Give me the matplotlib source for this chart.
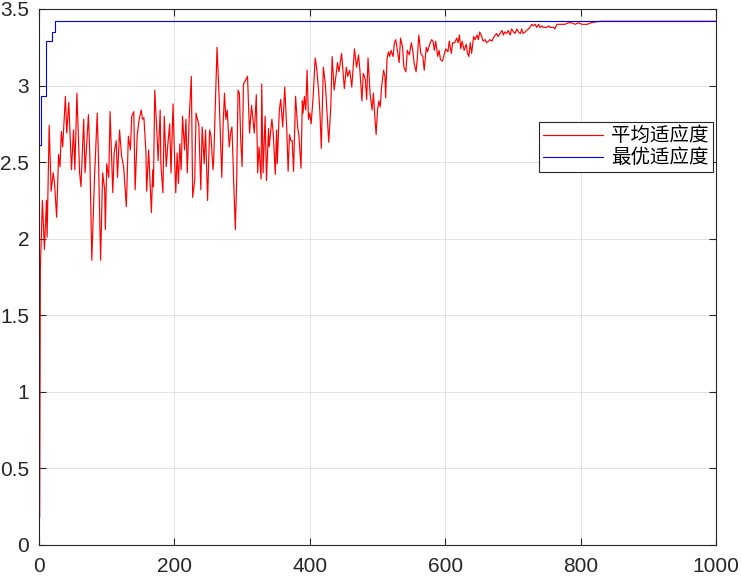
import numpy as np
import matplotlib.pyplot as plt
from matplotlib.ticker import FormatStrFormatter

# generations / fitness values
avg_gen = [1, 2, 5, 8, 11, 12, 15, 18, 21, 23, 26, 29, 31, 33, 35, 39, 41, 44, 48, 51,
           53, 56, 60, 62, 66, 68, 73, 75, 78, 82, 86, 88, 91, 94, 97, 98, 100, 103, 105, 109,
           111, 114, 116, 119, 122, 125, 129, 132, 135, 137, 140, 142, 145, 148,
           151, 153, 155, 158, 159, 162, 164, 166, 168, 169, 171, 174, 176, 179, 180, 183,
           185, 188, 190, 193, 195, 198, 200, 202, 204, 206, 208, 210, 212, 215, 217, 219,
           222, 225, 227, 230, 232, 234, 236, 239, 241, 244, 246, 248, 249, 252, 254, 257,
           258, 261, 263, 266, 270, 272, 274, 276, 278, 281, 283, 285, 287, 290, 292, 294,
           296, 298, 300, 302,
           308, 311, 314, 316, 318, 321, 323, 325, 328, 329, 331, 334, 336, 339, 340, 344,
           346, 349, 351, 352, 355, 357, 360, 363, 366, 368, 370, 372, 374, 376, 379, 382,
           384, 387, 389, 390, 392, 394, 396, 398, 400, 402, 405, 408, 410, 413, 415, 417,
           420, 423, 425, 428, 431, 433, 436, 439, 441, 443, 447, 451, 454, 456,
           459, 462, 466, 469, 472, 474, 477, 479, 482, 484, 486, 489, 492, 494, 496, 498,
           500, 502, 504, 506, 509, 511, 512, 514, 516, 518, 520, 523, 525, 527, 529, 532,
           534, 537, 539, 542, 544, 547, 550, 552, 554, 557, 559, 561, 564, 567, 569, 572,
           574, 577, 580, 582, 584, 586, 589, 591, 593, 596, 599, 601, 604, 606, 609, 611,
           614, 617, 619, 621, 623, 625, 628, 631, 633, 635, 637, 639, 642, 644, 647, 649,
           651, 654, 656, 659, 661, 664, 666, 669, 671, 674, 676, 678, 681, 684, 686, 688,
           691, 693, 696, 698, 701, 703, 706, 708, 711, 713, 715, 718, 720, 723, 725, 728,
           730, 733, 735, 738, 740, 743, 745, 748, 750, 753, 755, 758, 760, 762, 765, 768,
           772, 777, 782, 787, 792, 797, 802, 810, 815, 821, 830, 860, 900, 950, 1000]
avg_fit = [0.18, 1.80, 2.25, 1.93, 2.25, 2.01, 2.74, 2.31, 2.43, 2.36, 2.14, 2.55, 2.47, 2.70, 2.60, 2.93, 2.69, 2.89, 2.45, 2.71,
           2.45, 2.95, 2.43, 2.34, 2.78, 2.43, 2.81, 2.56, 1.86, 2.40, 2.82, 2.49, 1.86, 2.43, 2.32, 2.06, 2.49, 2.40, 2.83, 2.30,
           2.56, 2.64, 2.40, 2.71, 2.54, 2.47, 2.21, 2.67, 2.58, 2.80, 2.83, 2.32, 2.67, 2.78,
           2.84, 2.78, 2.79, 2.56, 2.31, 2.58, 2.38, 2.17, 2.45, 2.34, 2.97, 2.71, 2.51, 2.84, 2.49, 2.30,
           2.80, 2.47, 2.60, 2.75, 2.43, 2.88, 2.56, 2.30, 2.56, 2.36, 2.62, 2.45, 2.80, 2.58, 2.78, 2.43,
           2.80, 3.06, 2.27, 2.38, 2.82, 2.78, 2.75, 2.32, 2.73, 2.49, 2.71, 2.40, 2.25, 2.71, 2.67, 2.45,
           2.51, 2.95, 3.25, 2.93, 2.40, 2.75, 2.95, 2.78, 2.84, 2.60, 2.69, 2.73, 2.45, 2.06, 2.38, 2.97,
           2.95, 2.64, 2.47, 3.01,
           3.06, 2.69, 2.87, 2.78, 2.69, 2.94, 2.43, 2.60, 2.39, 3.01, 2.43, 2.80, 2.38, 2.72, 2.60, 2.78,
           2.69, 2.42, 2.71, 2.49, 2.84, 2.91, 2.73, 2.99, 2.71, 2.44, 2.68, 2.64, 2.64, 2.44, 2.93, 2.73,
           2.67, 2.46, 2.90, 2.82, 2.93, 2.84, 3.10, 2.78, 2.82, 2.75, 2.93, 3.18, 3.12, 2.97, 2.82, 2.59,
           3.12, 3.01, 2.86, 2.63, 2.86, 3.19, 2.97, 3.08, 3.15, 3.09, 3.21, 2.98, 3.12, 3.06,
           3.10, 2.99, 3.24, 3.12, 3.20, 3.10, 2.90, 3.08, 3.04, 2.91, 3.18, 2.95, 2.84, 2.95, 2.80, 2.68,
           2.84, 2.90, 2.86, 2.99, 3.10, 3.06, 2.92, 3.17, 3.22, 3.19, 3.23, 3.19, 3.28, 3.30, 3.24, 3.15,
           3.31, 3.25, 3.12, 3.09, 3.23, 3.20, 3.28, 3.23, 3.15, 3.09, 3.19, 3.33, 3.21, 3.19, 3.10, 3.25,
           3.22, 3.27, 3.30, 3.29, 3.23, 3.29, 3.19, 3.23, 3.17, 3.16, 3.21, 3.24, 3.22, 3.29, 3.21, 3.28,
           3.28, 3.31, 3.28, 3.33, 3.24, 3.29, 3.23, 3.27, 3.21, 3.19, 3.28, 3.21, 3.32, 3.30, 3.33, 3.30,
           3.35, 3.32, 3.29, 3.30, 3.28, 3.29, 3.30, 3.29, 3.31, 3.33, 3.34, 3.32, 3.34, 3.36, 3.33, 3.35,
           3.34, 3.36, 3.33, 3.37, 3.35, 3.34, 3.37, 3.35, 3.34, 3.37, 3.34, 3.35, 3.36, 3.37, 3.38, 3.40,
           3.39, 3.40, 3.38, 3.40, 3.38, 3.39, 3.38, 3.38, 3.38, 3.39, 3.38, 3.38, 3.38, 3.37, 3.40, 3.40,
           3.40, 3.40, 3.41, 3.41, 3.40, 3.41, 3.40, 3.40, 3.41, 3.415, 3.42, 3.42, 3.42, 3.42, 3.42]

best_gen = [1, 3, 10, 19, 23, 1000]
best_fit = [2.61, 2.93, 3.29, 3.35, 3.42, 3.42]

labels = ['平均适应度', '最优适应度']

plt.rcParams['font.family'] = ['Liberation Sans', 'DejaVu Sans']

fig = plt.figure(figsize=(7.41, 5.77), dpi=100)
ax = fig.add_axes([39 / 741, 32 / 577, 677 / 741, 536 / 577])

ax.plot(avg_gen, avg_fit, color='#ff0000', lw=0.85, label=labels[0])
ax.plot(best_gen, best_fit, color='#0000ff', lw=0.8, drawstyle='steps-post', label=labels[1])

ax.set_xlim(0, 1000)
ax.set_ylim(0, 3.5)
ax.set_xticks(np.arange(0, 1001, 200))
ax.set_yticks(np.arange(0, 3.51, 0.5))
ax.yaxis.set_major_formatter(FormatStrFormatter('%g'))
ax.grid(True, color='#dcdcdc', lw=0.6)
ax.set_axisbelow(True)
ax.tick_params(direction='in', top=True, right=True, length=5, width=0.8,
               labelsize=15, colors='#262626')
ax.tick_params(axis='x', pad=9)
ax.tick_params(axis='y', pad=7)
for s in ax.spines.values():
    s.set_color('#262626')
    s.set_linewidth(0.8)

leg = ax.legend(loc='upper right', bbox_to_anchor=(0.995, 0.79), fancybox=False,
                framealpha=1, edgecolor='#262626', handlelength=3.1, handletextpad=0.4,
                borderpad=0.2, labelspacing=0.05, borderaxespad=0,
                prop={'family': ['Noto Sans CJK SC', 'DejaVu Sans'], 'size': 14})
leg.get_frame().set_linewidth(0.8)

fig.savefig('out.png', dpi=100)
